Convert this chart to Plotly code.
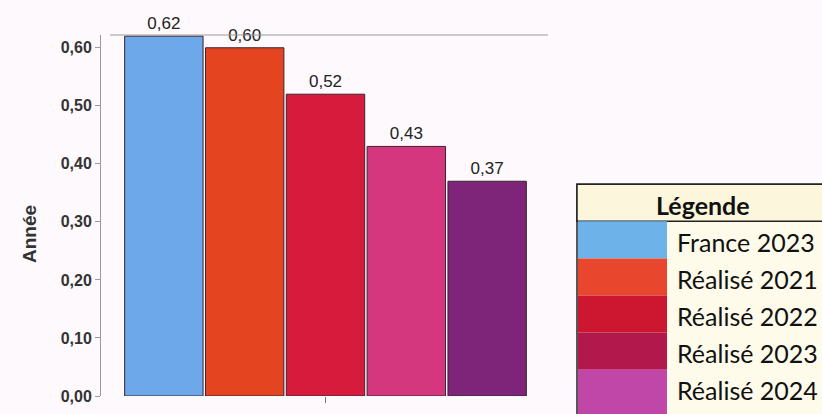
import plotly.graph_objects as go

# Series shown as grouped bars in a single category
series_names = ["France 2023", "Réalisé 2021", "Réalisé 2022", "Réalisé 2023", "Réalisé 2024"]
series_values = [0.62, 0.60, 0.52, 0.43, 0.37]
bar_colors = ["#6CA8EA", "#E4441F", "#D71B3C", "#D5377F", "#7E2479"]
legend_colors = ["#6EB2EA", "#E8472E", "#CD1630", "#B2184C", "#C047A8"]
category = ["Année"]
y_ticks = [0.0, 0.1, 0.2, 0.3, 0.4, 0.5, 0.6]

W, H = 822, 414
ML, MR, MT, MB = 101, 272, 35, 9
PW, PH = W - ML - MR, H - MT - MB

fig = go.Figure()
for name, val, col in zip(series_names, series_values, bar_colors):
    fig.add_trace(go.Bar(
        x=category, y=[val], name=name,
        marker=dict(color=col, line=dict(color="#3A2232", width=1)),
        text=[f"{val:.2f}".replace(".", ",")], textposition="outside",
        textfont=dict(family="Arial", size=17, color="#222222"),
        cliponaxis=False, showlegend=False,
    ))

fig.update_layout(
    width=W, height=H,
    margin=dict(l=ML, r=MR, t=MT, b=MB),
    paper_bgcolor="#FDF9FC", plot_bgcolor="#FDF9FC",
    separators=",.",
    barmode="group", bargap=0.10, bargroupgap=0.03,
    yaxis=dict(
        range=[0, 0.622], tickvals=y_ticks, tickformat=".2f",
        showgrid=False, zeroline=False,
        showline=True, linecolor="#9A9A9A", linewidth=1,
        ticks="outside", ticklen=5, tickcolor="#9A9A9A",
        tickfont=dict(family="Arial", size=16, color="#333333", weight="bold"),
    ),
    xaxis=dict(
        showticklabels=False, showgrid=False, zeroline=False, showline=False,
        ticks="outside", ticklen=6, tickcolor="#777777",
    ),
)

# Pixel -> paper (plot-area) coordinates
def fx(px):
    return (px - ML) / PW
def fy(py):
    return (H - MB - py) / PH

# Y-axis title
fig.add_annotation(xref="paper", yref="paper", x=fx(29), y=fy(239), text="<b>Année</b>",
                   textangle=-90, showarrow=False, xanchor="center", yanchor="middle",
                   font=dict(family="Arial", size=19, color="#333333"))

# Top border line of the plot area
fig.add_shape(type="line", xref="paper", yref="paper", x0=fx(110), x1=fx(548), y0=1, y1=1,
              line=dict(color="#9A9A9A", width=1))

# Legend table drawn on the right
tbl_left, tbl_right = 577, 830
hdr_top, hdr_bot = 188, 226
row_h = 38
sw_right = 667

fig.add_shape(type="rect", xref="paper", yref="paper", layer="below",
              x0=fx(tbl_left), x1=fx(tbl_right), y0=fy(hdr_bot + row_h * 5 + 10), y1=fy(hdr_top),
              fillcolor="#FEFBEA", line=dict(color="#222222", width=1.5))
fig.add_shape(type="rect", xref="paper", yref="paper",
              x0=fx(tbl_left), x1=fx(tbl_right), y0=fy(hdr_bot), y1=fy(hdr_top),
              fillcolor="#FCF6DC", line=dict(color="#222222", width=1.5))
fig.add_annotation(xref="paper", yref="paper", x=fx(703), y=fy(209),
                   text="<b>Légende</b>", showarrow=False, xanchor="center", yanchor="middle",
                   font=dict(family="Lato", size=25, color="#111111"))
for i, (name, col) in enumerate(zip(series_names, legend_colors)):
    top = hdr_bot + i * row_h
    bottom = top + row_h + (10 if i == len(series_names) - 1 else 0)
    fig.add_shape(type="rect", xref="paper", yref="paper",
                  x0=fx(tbl_left + 1), x1=fx(sw_right), y0=fy(bottom), y1=fy(top),
                  fillcolor=col, line=dict(width=0))
    fig.add_annotation(xref="paper", yref="paper", x=fx(sw_right + 8), y=fy(top + row_h / 2 + 2),
                       text=name, showarrow=False, xanchor="left", yanchor="middle",
                       font=dict(family="Lato", size=25, color="#111111"))

fig.write_html("out.html")
